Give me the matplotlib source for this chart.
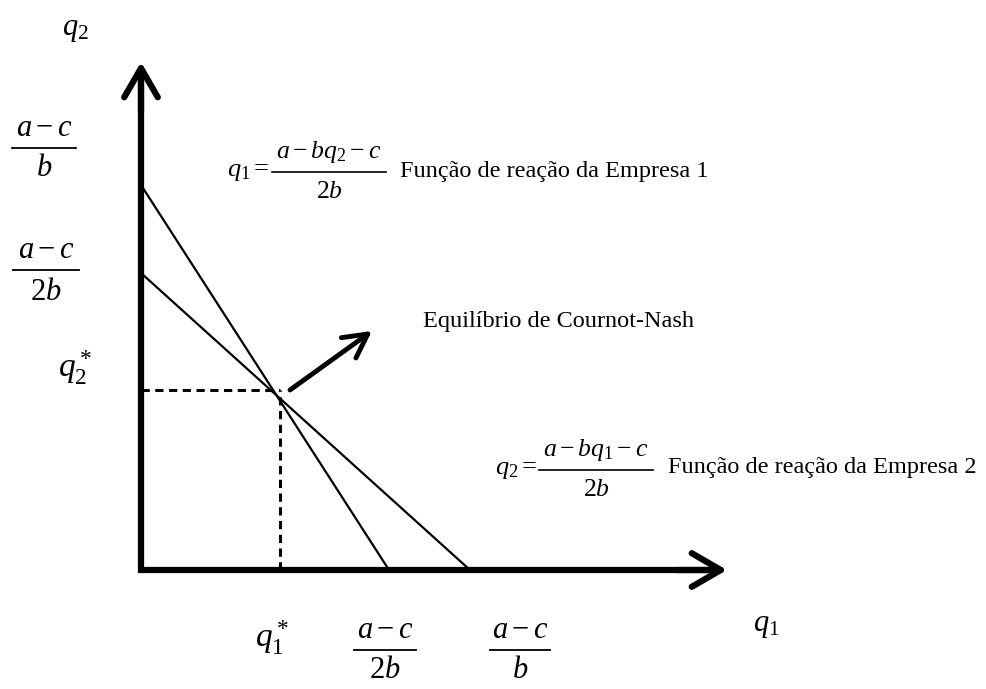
import matplotlib
matplotlib.use("Agg")
import matplotlib.pyplot as plt

plt.rcParams["font.family"] = ["Liberation Serif", "DejaVu Serif"]
plt.rcParams["mathtext.fontset"] = "custom"
plt.rcParams["mathtext.rm"] = "Liberation Serif"
plt.rcParams["mathtext.it"] = "Liberation Serif:italic"
plt.rcParams["mathtext.bf"] = "Liberation Serif:bold"

# reaction functions (arbitrary units)
firm1_q1 = [0.0, 2.48]
firm1_q2 = [3.85, 0.0]
firm2_q1 = [0.0, 3.29]
firm2_q2 = [2.97, 0.0]

# Cournot-Nash equilibrium
eq_q1 = 1.39
eq_q2 = 1.80

# axis extents
q1_max = 5.86
q2_max = 5.08

fig = plt.figure(figsize=(9.87, 6.89), dpi=100)
ax = fig.add_axes([0, 0, 1, 1])
ax.set_xlim(-1.41, 8.46)
ax.set_ylim(-1.19, 5.70)
ax.axis("off")


def frac(x, y, num, den, size, hw, up=0.20, down=0.21, lw=1.3):
    # stacked fraction: numerator, bar, denominator
    ax.text(x, y + up, num, fontsize=size, ha="center", va="center")
    ax.plot([x - hw, x + hw], [y, y], color="black", lw=lw)
    ax.text(x, y - down, den, fontsize=size, ha="center", va="center")


# axes with arrow heads
ax.plot([0, 0, q1_max - 0.1], [q2_max - 0.1, 0, 0], color="black", lw=4.5,
        solid_joinstyle="miter", solid_capstyle="butt")
head = "->,head_length=0.95,head_width=0.55"
ax.annotate("", xy=(q1_max, 0), xytext=(q1_max - 0.5, 0),
            arrowprops=dict(arrowstyle=head, lw=4.5, color="black",
                            mutation_scale=22, shrinkA=0, shrinkB=0))
ax.annotate("", xy=(0, q2_max), xytext=(0, q2_max - 0.5),
            arrowprops=dict(arrowstyle=head, lw=4.5, color="black",
                            mutation_scale=22, shrinkA=0, shrinkB=0))

# reaction lines
ax.plot(firm1_q1, firm1_q2, color="black", lw=1.6)
ax.plot(firm2_q1, firm2_q2, color="black", lw=1.6)

# dashed guides to the equilibrium
ax.plot([0, eq_q1], [eq_q2, eq_q2], color="black", lw=2.2, ls=(0, (2.7, 1.8)))
ax.plot([eq_q1, eq_q1], [0, eq_q2], color="black", lw=2.2, ls=(0, (2.7, 1.8)))

# arrow pointing to the equilibrium label
ax.annotate("", xy=(eq_q1 + 0.92, eq_q2 + 0.59), xytext=(eq_q1 + 0.10, eq_q2),
            arrowprops=dict(arrowstyle="->,head_length=0.85,head_width=0.45",
                            lw=3.5, color="black", mutation_scale=20,
                            shrinkA=0, shrinkB=0))

# axis labels
ax.text(-0.66, 5.41, r"$q_2$", fontsize=22, ha="center", va="center")
ax.text(6.25, -0.55, r"$q_1$", fontsize=22, ha="center", va="center")

# vertical axis marks
frac(-0.97, 4.22, r"$a-c$", r"$b$", 22, 0.32)
frac(-0.95, 3.00, r"$a-c$", r"$2b$", 22, 0.33, down=0.23)
ax.text(-0.66, 2.02, r"$q_2^*$", fontsize=24, ha="center", va="center")

# horizontal axis marks
ax.text(eq_q1 - 0.08, -0.68, r"$q_1^*$", fontsize=24, ha="center", va="center")
frac(2.44, -0.80, r"$a-c$", r"$2b$", 22, 0.31)
frac(3.79, -0.80, r"$a-c$", r"$b$", 22, 0.30)

# reaction function labels
ax.text(0.86, 3.98, r"$q_1 =$", fontsize=19, ha="left", va="center")
frac(1.88, 3.98, r"$a - bq_2 - c$", r"$2b$", 18.5, 0.57, up=0.20, down=0.20, lw=1.2)
ax.text(2.59, 3.99, "Função de reação da Empresa 1", fontsize=17.5,
        ha="left", va="center")
ax.text(3.54, 1.00, r"$q_2 =$", fontsize=19, ha="left", va="center")
frac(4.55, 1.00, r"$a - bq_1 - c$", r"$2b$", 18.5, 0.57, up=0.20, down=0.20, lw=1.2)
ax.text(5.27, 1.02, "Função de reação da Empresa 2", fontsize=17.5,
        ha="left", va="center")

ax.text(2.82, 2.48, "Equilíbrio de Cournot-Nash", fontsize=17.5,
        ha="left", va="center")

fig.savefig("out.png", dpi=100)
